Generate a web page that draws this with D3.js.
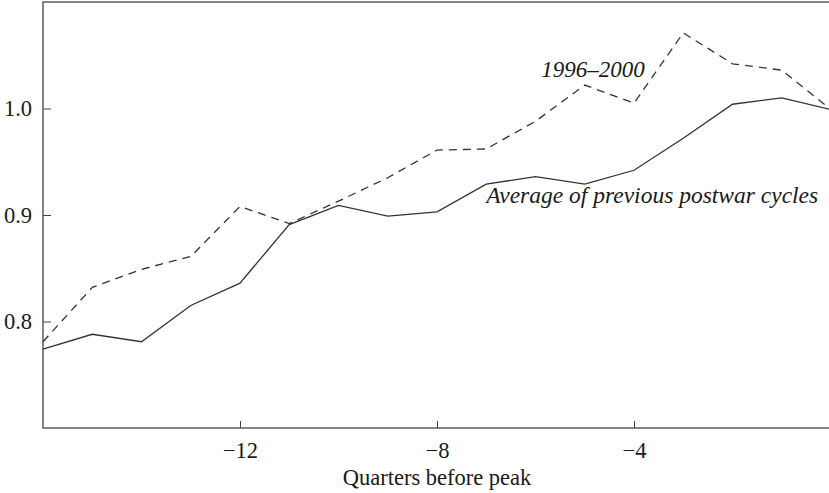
<!DOCTYPE html>
<html>
<head>
<meta charset="utf-8">
<script src="https://cdn.jsdelivr.net/npm/d3@7"></script>
<style>
  html, body { margin: 0; padding: 0; background: #fff; }
  svg { display: block; font-family: "Liberation Serif", "DejaVu Serif", serif; }
  .axis path, .axis line { stroke: #444; }
  .axis text { fill: #1a1a1a; font-size: 22.5px; font-family: "Liberation Serif", serif; }
</style>
</head>
<body>
<svg id="chart" width="829" height="493"></svg>
<script>
// quarters before peak
var quarters = [-16, -15, -14, -13, -12, -11, -10, -9, -8, -7, -6, -5, -4, -3, -2, -1, 0];

// average of previous postwar cycles
var averageCycles = [0.774, 0.788, 0.781, 0.815, 0.836, 0.891, 0.909, 0.899, 0.903, 0.929, 0.936, 0.929, 0.942, 0.972, 1.004, 1.010, 0.999];

// 1996-2000 cycle
var cycle1996 = [0.781, 0.832, 0.849, 0.861, 0.908, 0.892, 0.913, 0.935, 0.961, 0.962, 0.988, 1.022, 1.005, 1.071, 1.042, 1.036, 0.999];

var xTicks = [-12, -8, -4];
var yTicks = [0.8, 0.9, 1.0];

var svg = d3.select("svg#chart"),
    margin = {top: 2, right: -2, bottom: 65, left: 43},
    width = +svg.attr("width") - margin.left - margin.right,
    height = +svg.attr("height") - margin.top - margin.bottom,
    g = svg.append("g").attr("transform", "translate(" + margin.left + "," + margin.top + ")");

var x = d3.scaleLinear().domain([-16, 0]).range([0, width]);
var y = d3.scaleLinear().domain([0.7, 1.1]).range([height, 0]);

// frame
g.append("rect")
    .attr("width", width)
    .attr("height", height)
    .attr("fill", "none")
    .attr("stroke", "#444")
    .attr("stroke-width", 1.3);

g.append("g")
    .attr("class", "axis")
    .attr("transform", "translate(0," + height + ")")
    .call(d3.axisBottom(x).tickValues(xTicks).tickSize(-7).tickPadding(14)
      .tickFormat(function(d) { return "\u2212" + Math.abs(d); }))
    .call(function(a) { a.select(".domain").remove(); });

g.append("g")
    .attr("class", "axis")
    .call(d3.axisLeft(y).tickValues(yTicks).tickSize(-8).tickPadding(11).tickFormat(d3.format(".1f")))
    .call(function(a) { a.select(".domain").remove(); });

g.append("text")
    .attr("x", x(-8))
    .attr("y", height + 57)
    .attr("text-anchor", "middle")
    .attr("fill", "#1a1a1a")
    .attr("font-size", 22.5)
    .text("Quarters before peak");

var line = d3.line()
    .x(function(d) { return x(d[0]); })
    .y(function(d) { return y(d[1]); });

g.append("path")
    .datum(d3.zip(quarters, averageCycles))
    .attr("fill", "none")
    .attr("stroke", "#333")
    .attr("stroke-width", 1.3)
    .attr("d", line);

g.append("path")
    .datum(d3.zip(quarters, cycle1996))
    .attr("fill", "none")
    .attr("stroke", "#333")
    .attr("stroke-width", 1.3)
    .attr("stroke-dasharray", "8,6")
    .attr("d", line);

g.append("text")
    .attr("x", x(-3.78))
    .attr("y", y(1.0297))
    .attr("text-anchor", "end")
    .attr("font-style", "italic")
    .attr("font-size", 23)
    .attr("fill", "#1a1a1a")
    .text("1996\u20132000");

g.append("text")
    .attr("x", x(-0.26))
    .attr("y", y(0.9114))
    .attr("text-anchor", "end")
    .attr("font-style", "italic")
    .attr("font-size", 23.5)
    .attr("fill", "#1a1a1a")
    .text("Average of previous postwar cycles");
</script>
</body>
</html>
